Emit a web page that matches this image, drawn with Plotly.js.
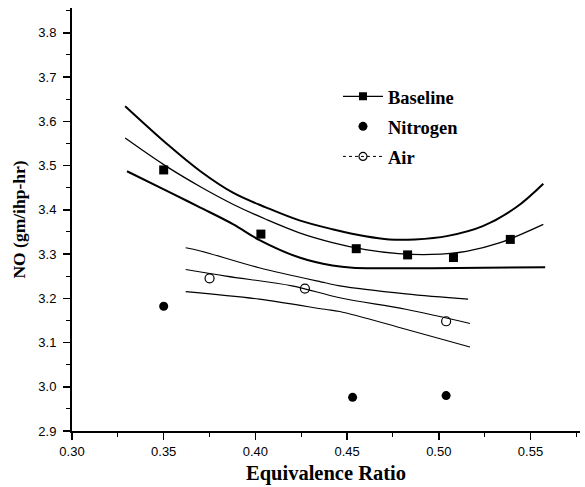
<!DOCTYPE html>
<html>
<head>
<meta charset="utf-8">
<script src="https://cdn.plot.ly/plotly-3.0.1.min.js"></script>
<style>html,body{margin:0;padding:0;background:#fff;}#chart{width:585px;height:487px;}</style>
</head>
<body>
<div id="chart"></div>
<script>
// Measured points
const baselineX = [0.350, 0.403, 0.455, 0.483, 0.508, 0.539];
const baselineY = [3.490, 3.345, 3.312, 3.298, 3.292, 3.333];
const nitrogenX = [0.350, 0.453, 0.504];
const nitrogenY = [3.182, 2.976, 2.980];
const airX = [0.375, 0.427, 0.504];
const airY = [3.245, 3.222, 3.148];

// Baseline fit and bands
const baseFitX = [0.329, 0.350, 0.370, 0.388, 0.406, 0.424, 0.442, 0.460, 0.478, 0.496, 0.515, 0.533, 0.557];
const baseFitY = [3.562, 3.502, 3.452, 3.412, 3.378, 3.348, 3.326, 3.310, 3.301, 3.299, 3.306, 3.325, 3.367];
const baseUpX = [0.329, 0.352, 0.370, 0.388, 0.406, 0.424, 0.442, 0.460, 0.473, 0.487, 0.505, 0.524, 0.542, 0.557];
const baseUpY = [3.634, 3.548, 3.487, 3.438, 3.405, 3.376, 3.356, 3.340, 3.333, 3.333, 3.341, 3.363, 3.405, 3.459];
const baseLoX = [0.330, 0.352, 0.370, 0.388, 0.402, 0.424, 0.442, 0.453, 0.496, 0.558];
const baseLoY = [3.487, 3.442, 3.405, 3.367, 3.332, 3.292, 3.274, 3.269, 3.268, 3.270];

// Air fit and bands
const airFitX = [0.362, 0.384, 0.420, 0.446, 0.482, 0.517];
const airFitY = [3.265, 3.250, 3.228, 3.201, 3.175, 3.143];
const airUpX = [0.362, 0.370, 0.402, 0.438, 0.446, 0.482, 0.516];
const airUpY = [3.314, 3.307, 3.269, 3.235, 3.228, 3.210, 3.198];
const airLoX = [0.362, 0.402, 0.438, 0.446, 0.482, 0.517];
const airLoY = [3.215, 3.198, 3.175, 3.170, 3.130, 3.090];

const legendNames = ['Baseline', 'Nitrogen', 'Air'];

const ink = '#000000';
const serif = 'Liberation Serif, Times New Roman, serif';
const traces = [
  {x: baseUpX, y: baseUpY, mode: 'lines', line: {color: ink, width: 2, shape: 'spline'}, showlegend: false, hoverinfo: 'skip'},
  {x: baseFitX, y: baseFitY, mode: 'lines', line: {color: ink, width: 1.3, shape: 'spline'}, showlegend: false, hoverinfo: 'skip'},
  {x: baseLoX, y: baseLoY, mode: 'lines', line: {color: ink, width: 2, shape: 'spline'}, showlegend: false, hoverinfo: 'skip'},
  {x: airUpX, y: airUpY, mode: 'lines', line: {color: ink, width: 1.1, shape: 'spline'}, showlegend: false, hoverinfo: 'skip'},
  {x: airFitX, y: airFitY, mode: 'lines', line: {color: ink, width: 1.1, shape: 'spline'}, showlegend: false, hoverinfo: 'skip'},
  {x: airLoX, y: airLoY, mode: 'lines', line: {color: ink, width: 1.1, shape: 'spline'}, showlegend: false, hoverinfo: 'skip'},
  {x: baselineX, y: baselineY, mode: 'markers', marker: {symbol: 'square', size: 9, color: ink}, showlegend: false},
  {x: nitrogenX, y: nitrogenY, mode: 'markers', marker: {symbol: 'circle', size: 9, color: ink}, showlegend: false},
  {x: airX, y: airY, mode: 'markers', marker: {symbol: 'circle-open', size: 9, color: ink, line: {width: 1.2}}, showlegend: false},
  // legend entries
  {x: [null], y: [null], name: legendNames[0], legendgroup: 'a', mode: 'lines+markers', line: {color: ink, width: 1.3}, marker: {symbol: 'square', size: 8, color: ink}},
  {x: [null], y: [null], name: legendNames[1], legendgroup: 'b', mode: 'markers', marker: {symbol: 'circle', size: 9, color: ink}},
  {x: [null], y: [null], name: legendNames[2], legendgroup: 'c', mode: 'lines+markers', line: {color: ink, width: 1, dash: 'dot'}, marker: {symbol: 'circle-open', size: 8, color: ink, line: {width: 1.2}}}
];

const layout = {
  width: 585, height: 487,
  margin: {l: 72, r: 5, t: 8, b: 56},
  paper_bgcolor: '#fff', plot_bgcolor: '#fff',
  showlegend: true,
  legend: {x: 0.5236, y: 0.835, xanchor: 'left', yanchor: 'top', bgcolor: 'rgba(0,0,0,0)',
    font: {family: serif, size: 18.5, color: ink, weight: 'bold'},
    traceorder: 'grouped', tracegroupgap: 3, itemwidth: 40},
  xaxis: {
    range: [0.30, 0.577], showgrid: false, zeroline: false,
    showline: true, linecolor: ink, linewidth: 2,
    ticks: 'outside', ticklen: 7, tickwidth: 1.5, tickcolor: ink,
    tick0: 0.30, dtick: 0.05, tickformat: '.2f',
    minor: {dtick: 0.025, ticks: 'outside', ticklen: 4, tickcolor: ink, tickwidth: 1},
    tickfont: {family: 'Liberation Sans', size: 13, color: ink},
    title: {text: 'Equivalence Ratio', font: {family: serif, size: 20.5, color: ink, weight: 'bold'}, standoff: 8}
  },
  yaxis: {
    range: [2.9, 3.856], showgrid: false, zeroline: false,
    showline: true, linecolor: ink, linewidth: 2,
    ticks: 'outside', ticklen: 7, tickwidth: 1.5, tickcolor: ink,
    ticklabelstandoff: 4,
    tick0: 2.9, dtick: 0.1, tickformat: '.1f',
    minor: {dtick: 0.05, ticks: 'outside', ticklen: 4, tickcolor: ink, tickwidth: 1},
    tickfont: {family: 'Liberation Sans', size: 13, color: ink},
    title: {text: 'NO (gm/ihp-hr)', font: {family: serif, size: 17.5, color: ink, weight: 'bold'}, standoff: 8}
  }
};

Plotly.newPlot('chart', traces, layout, {staticPlot: true, displayModeBar: false});
</script>
</body>
</html>
